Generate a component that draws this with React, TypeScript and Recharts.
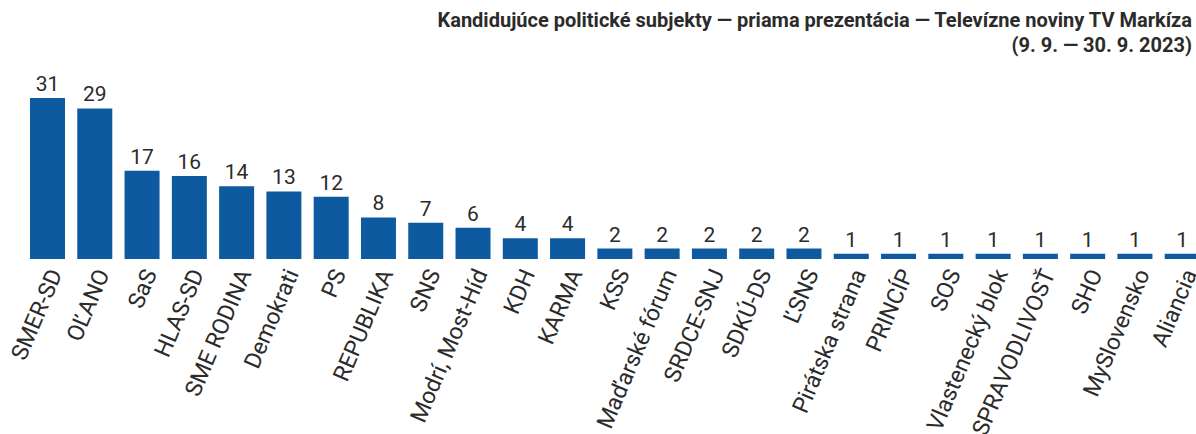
import { BarChart, Bar, XAxis, YAxis, LabelList } from "recharts";

const parties = [
  "SMER-SD", "OĽANO", "SaS", "HLAS-SD", "SME RODINA", "Demokrati", "PS", "REPUBLIKA",
  "SNS", "Modrí, Most-Híd", "KDH", "KARMA", "KSS", "Maďarské fórum", "SRDCE-SNJ",
  "SDKÚ-DS", "ĽSNS", "Pirátska strana", "PRINCÍP", "SOS", "Vlastenecký blok",
  "SPRAVODLIVOSŤ", "SHO", "MySlovensko", "Aliancia",
];
const counts = [31, 29, 17, 16, 14, 13, 12, 8, 7, 6, 4, 4, 2, 2, 2, 2, 2, 1, 1, 1, 1, 1, 1, 1, 1];

const data = parties.map((name, i) => ({ name, value: counts[i] }));

const font = "Roboto, 'Noto Sans', sans-serif";

export default function App() {
  return (
    <div style={{ position: "absolute", left: 0, top: 0, width: 1196, height: 434, overflow: "hidden", background: "#fff", fontFamily: font }}>
      <div style={{ position: "absolute", right: 4, top: 8, textAlign: "right", fontWeight: 700, fontSize: 20, lineHeight: "25px", color: "#2b2b2b", whiteSpace: "nowrap" }}>
        Kandidujúce politické subjekty — priama prezentácia — Televízne noviny TV Markíza
        <br />
        (9. 9. — 30. 9. 2023)
      </div>
      <BarChart width={1206} height={434} data={data} margin={{ top: 98, right: 0, left: 24, bottom: 0 }}>
        <YAxis hide domain={[0, 31]} />
        <XAxis
          dataKey="name"
          interval={0}
          height={175}
          axisLine={false}
          tickLine={false}
          tick={{ angle: -67, textAnchor: "end", fontSize: 23, fill: "#2b2b2b", fontFamily: font }}
        />
        <Bar dataKey="value" fill="#0e5aa0" barSize={35} isAnimationActive={false}>
          <LabelList dataKey="value" position="top" offset={7} style={{ fontSize: 21, fill: "#2b2b2b", fontFamily: font }} />
        </Bar>
      </BarChart>
    </div>
  );
}
